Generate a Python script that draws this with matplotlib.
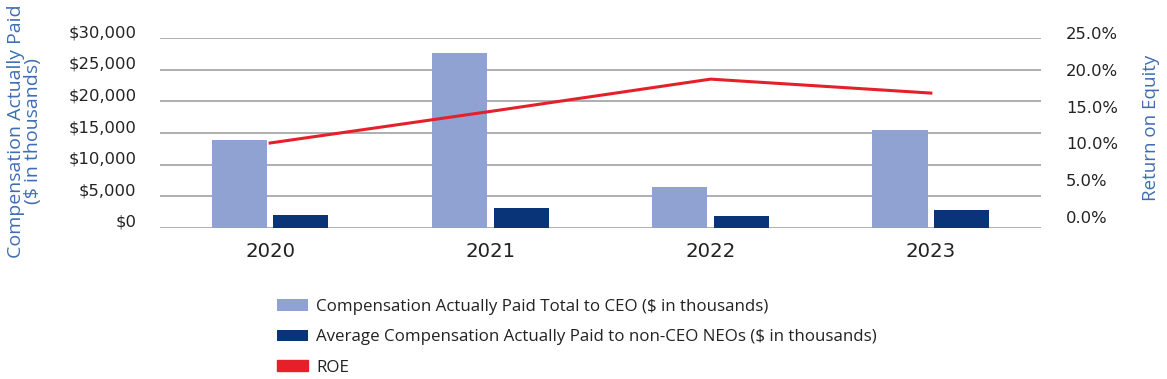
import matplotlib.pyplot as plt
import matplotlib.transforms as mtransforms
from matplotlib.patches import Patch
import numpy as np

# Data
years = ['2020', '2021', '2022', '2023']
ceo_cap = [13900, 27700, 6450, 15450]      # $ in thousands
neo_cap = [2000, 3100, 1850, 2800]         # $ in thousands
roe = [11.0, 15.3, 19.7, 17.8]             # %

left_ticks = [0, 5000, 10000, 15000, 20000, 25000, 30000]
right_ticks = [0, 5, 10, 15, 20, 25]

light_blue = '#8FA2D1'
navy = '#0A3478'
red = '#E5202B'
title_blue = '#3F6DB3'

plt.rcParams['font.family'] = ['Open Sans', 'DejaVu Sans']

fig = plt.figure(figsize=(11.67, 3.79), dpi=100)
ax = fig.add_axes([0.1371, 0.3992, 0.7549, 0.4997])

x = np.arange(len(years))
w = 0.25
ax.bar(x - 0.14, ceo_cap, width=w, color=light_blue, zorder=3,
       label='Compensation Actually Paid Total to CEO ($ in thousands)')
ax.bar(x + 0.14, neo_cap, width=w, color=navy, zorder=3,
       label='Average Compensation Actually Paid to non-CEO NEOs ($ in thousands)')

ax.set_xlim(-0.5, 3.5)
ax.set_ylim(0, 30000)
ax.set_yticks(left_ticks)
ax.set_yticklabels(['${:,}'.format(v) for v in left_ticks], family='DejaVu Sans')
ax.set_xticks(x)
ax.set_xticklabels(years, family='DejaVu Sans')
ax.yaxis.grid(True, color='#999999', linewidth=1.1, zorder=0)
ax.set_axisbelow(True)
for s in ax.spines.values():
    s.set_visible(False)
ax.tick_params(axis='x', length=0, pad=10, labelsize=14.2, labelcolor='#222222')
ax.tick_params(axis='y', length=0, pad=17, labelsize=11.8, labelcolor='#222222')

# ROE on the secondary axis
ax2 = ax.twinx()
ax2.plot(x, roe, color=red, linewidth=2.2, zorder=4)
ax2.set_ylim(-0.54, 25.26)
ax2.set_yticks(right_ticks)
ax2.set_yticklabels(['{:.1f}%'.format(v) for v in right_ticks], family='DejaVu Sans')
ax2.tick_params(axis='y', length=0, pad=18, labelsize=11.8, labelcolor='#222222')
for s in ax2.spines.values():
    s.set_visible(False)

# tick labels sit a little above their gridlines in the original
shift = mtransforms.ScaledTranslation(0, 7 / 100, fig.dpi_scale_trans)
for lbl in ax.get_yticklabels() + ax2.get_yticklabels():
    lbl.set_transform(lbl.get_transform() + shift)

fig.text(0.021, 0.654, 'Compensation Actually Paid\n($ in thousands)', rotation=90,
         ha='center', va='center', fontsize=14, color=title_blue, linespacing=0.88)
fig.text(0.986, 0.662, 'Return on Equity', rotation=90, ha='center', va='center',
         fontsize=13.5, color=title_blue)

handles, labels = ax.get_legend_handles_labels()
handles.append(Patch(color=red))
labels.append('ROE')
fig.legend(handles, labels, loc='upper left', bbox_to_anchor=(0.2376, 0.2115),
           frameon=False, fontsize=12.2, handlelength=1.8, handleheight=0.65,
           handletextpad=0.5, labelspacing=0.85, borderpad=0, borderaxespad=0,
           labelcolor='#222222')

fig.savefig('out.png', dpi=100)
